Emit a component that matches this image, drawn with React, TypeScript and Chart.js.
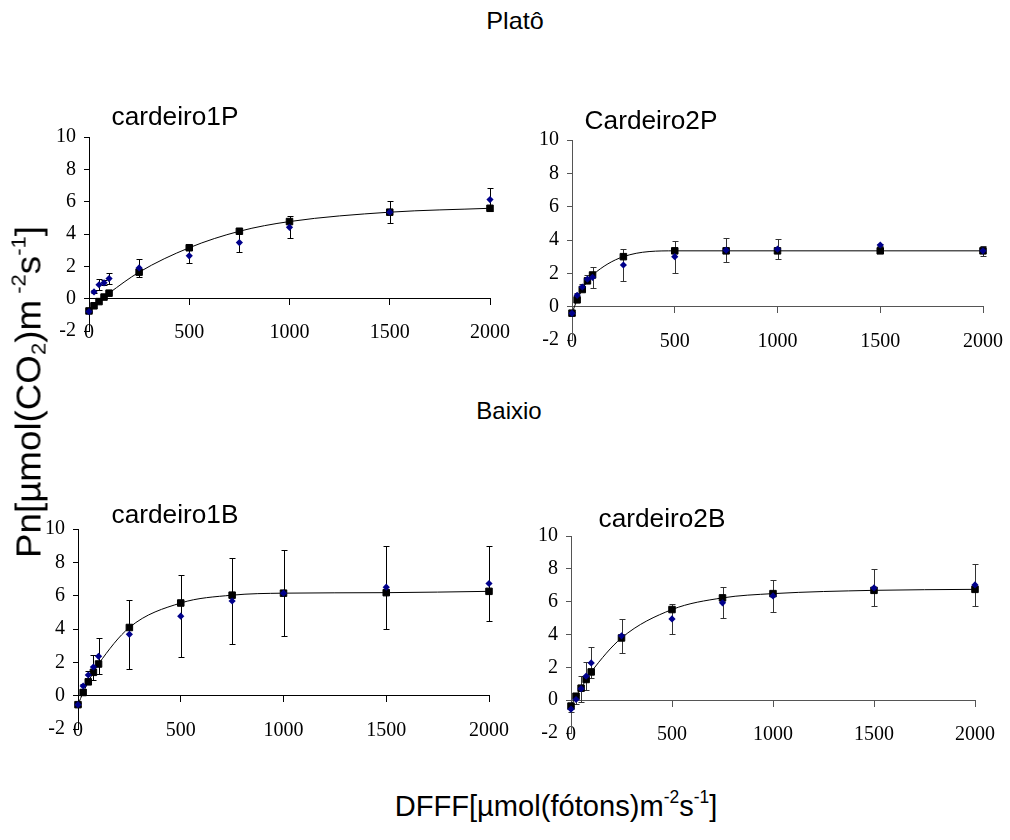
import React, { useEffect, useRef } from "react";
import { Chart, registerables } from "chart.js";

Chart.register(...registerables);

// ---------- data ----------
const PPFD = [0, 25, 50, 75, 100, 250, 500, 750, 1000, 1500, 2000];
const X_TICKS = [0, 500, 1000, 1500, 2000];
const Y_TICKS = [-2, 0, 2, 4, 6, 8, 10];

const obs1P = [-0.8, 0.42, 0.86, 0.98, 1.24, 1.9, 2.65, 3.47, 4.41, 5.35, 6.13];
const err1P = [0.05, 0.1, 0.33, 0.15, 0.35, 0.56, 0.42, 0.6, 0.68, 0.68, 0.7];
const fit1P = [-0.76, -0.44, -0.18, 0.1, 0.34, 1.64, 3.15, 4.17, 4.77, 5.35, 5.59];

const obs2P = [-0.4, 0.68, 1.18, 1.65, 1.76, 2.5, 3.0, 3.39, 3.45, 3.7, 3.35];
const err2P = [0.1, 0.15, 0.2, 0.25, 0.62, 0.94, 0.95, 0.73, 0.6, 0.08, 0.3];
const fit2P = [-0.39, 0.41, 1.03, 1.55, 1.9, 3.0, 3.35, 3.35, 3.35, 3.35, 3.35];

const obs1B = [-0.54, 0.58, 1.24, 1.72, 2.36, 3.68, 4.77, 5.68, 6.15, 6.51, 6.73];
const err1B = [0.1, 0.15, 0.23, 0.75, 1.08, 2.05, 2.47, 2.6, 2.56, 2.5, 2.25];
const fit1B = [-0.54, 0.19, 0.83, 1.4, 1.9, 4.09, 5.56, 6.03, 6.15, 6.18, 6.26];

const obs2B = [-0.55, 0.04, 0.7, 1.46, 2.27, 3.92, 4.95, 5.93, 6.35, 6.84, 7.02];
const err2B = [0.2, 0.25, 0.8, 0.87, 0.94, 1.03, 0.89, 0.95, 1.0, 1.13, 1.3];
const fit2B = [-0.36, 0.24, 0.73, 1.26, 1.72, 3.79, 5.52, 6.23, 6.49, 6.69, 6.75];

// ---------- layout ----------
const YW = 50;
const PT = 14;
const PR = 34;
const XH = 34;

type PanelCfg = {
  title: string;
  obs: number[];
  err: number[];
  fit: number[];
  area: { left: number; top: number; width: number; height: number };
  axisColor: string;
  titlePos: { x: number; y: number };
};

const PANELS: PanelCfg[] = [
  { title: "cardeiro1P", obs: obs1P, err: err1P, fit: fit1P, area: { left: 89, top: 131, width: 401, height: 200 }, axisColor: "#000", titlePos: { x: 175, y: 116 } },
  { title: "Cardeiro2P", obs: obs2P, err: err2P, fit: fit2P, area: { left: 572, top: 134, width: 411, height: 206 }, axisColor: "#555", titlePos: { x: 651, y: 120 } },
  { title: "cardeiro1B", obs: obs1B, err: err1B, fit: fit1B, area: { left: 78, top: 523, width: 411, height: 206 }, axisColor: "#000", titlePos: { x: 175, y: 514 } },
  { title: "cardeiro2B", obs: obs2B, err: err2B, fit: fit2B, area: { left: 571, top: 530, width: 404, height: 203 }, axisColor: "#555", titlePos: { x: 662, y: 518 } },
];

const SANS = "'Liberation Sans', Arial, sans-serif";
const SERIF = "'Liberation Serif', 'Times New Roman', serif";

function errorBarPlugin(xs: number[], ys: number[], errs: number[], color: string) {
  return {
    id: "errorBars",
    beforeDatasetsDraw(chart: any) {
      const { ctx } = chart;
      const x = chart.scales.x;
      const y = chart.scales.y;
      ctx.save();
      ctx.strokeStyle = color;
      ctx.lineWidth = 1;
      xs.forEach((xv, i) => {
        const e = errs[i];
        if (!e) return;
        const px = Math.round(x.getPixelForValue(xv)) + 0.5;
        const top = Math.round(y.getPixelForValue(ys[i] + e)) + 0.5;
        const bot = Math.round(y.getPixelForValue(ys[i] - e)) + 0.5;
        ctx.beginPath();
        ctx.moveTo(px, top);
        ctx.lineTo(px, bot);
        ctx.moveTo(px - 3, top);
        ctx.lineTo(px + 3, top);
        ctx.moveTo(px - 3, bot);
        ctx.lineTo(px + 3, bot);
        ctx.stroke();
      });
      ctx.restore();
    },
  };
}

function Panel({ cfg }: { cfg: PanelCfg }) {
  const ref = useRef<HTMLCanvasElement | null>(null);
  const w = YW + cfg.area.width + PR;
  const h = PT + cfg.area.height + XH;
  const left = cfg.area.left - YW;
  const top = cfg.area.top - PT;

  useEffect(() => {
    if (!ref.current) return;
    const xTicks = (s: any) => {
      s.ticks = X_TICKS.map((v) => ({ value: v }));
    };
    const chart = new Chart(ref.current, {
      type: "scatter",
      data: {
        datasets: [
          {
            label: "observado",
            data: PPFD.map((x, i) => ({ x, y: cfg.obs[i] })),
            pointStyle: "rectRot",
            pointRadius: 3.6,
            backgroundColor: "#00008b",
            borderColor: "#00008b",
            borderWidth: 0,
            showLine: false,
            clip: false,
          } as any,
          {
            label: "ajustado",
            data: PPFD.map((x, i) => ({ x, y: cfg.fit[i] })),
            pointStyle: "rect",
            pointRadius: 4.6,
            backgroundColor: "#000",
            borderColor: "#000",
            borderWidth: 1,
            showLine: true,
            cubicInterpolationMode: "monotone",
            clip: false,
          } as any,
        ],
      },
      options: {
        responsive: false,
        animation: false,
        events: [],
        layout: { padding: { top: PT, right: PR, left: 0, bottom: XH } },
        plugins: { legend: { display: false }, tooltip: { enabled: false }, title: { display: false } },
        scales: {
          x: {
            type: "linear",
            axis: "x",
            position: { y: -2 },
            min: 0,
            max: 2000,
            afterBuildTicks: xTicks,
            ticks: {
              color: "#000",
              font: { family: SERIF, size: 20 },
              padding: -10,
              maxRotation: 0,
              autoSkip: false,
              callback: (v: any) => String(v),
            },
            grid: { display: false, drawTicks: false },
            border: { display: false },
          },
          x0: {
            type: "linear",
            axis: "x",
            position: { y: 0 },
            min: 0,
            max: 2000,
            afterBuildTicks: xTicks,
            ticks: { display: false },
            grid: { drawOnChartArea: false, drawTicks: true, tickLength: 6, color: cfg.axisColor, lineWidth: 1 },
            border: { display: true, color: cfg.axisColor, width: 1 },
          },
          y: {
            type: "linear",
            position: "left",
            min: -2,
            max: 10,
            afterBuildTicks: (s: any) => {
              s.ticks = Y_TICKS.map((v) => ({ value: v }));
            },
            afterFit: (s: any) => {
              s.width = YW;
            },
            ticks: { color: "#000", font: { family: SERIF, size: 20 }, padding: 8 },
            grid: { drawOnChartArea: false, drawTicks: true, tickLength: 5, color: cfg.axisColor },
            border: { display: true, color: cfg.axisColor, width: 1 },
          },
        } as any,
      },
      plugins: [errorBarPlugin(PPFD, cfg.obs, cfg.err, cfg.axisColor === "#000" ? "#000" : "#333")],
    });
    return () => chart.destroy();
  }, [cfg]);

  return (
    <div style={{ position: "absolute", left, top, width: w, height: h }}>
      <canvas ref={ref} width={w} height={h} style={{ width: w, height: h, display: "block" }} />
    </div>
  );
}

function Label({ x, y, size, children, rotate = 0, stretch = 1 }: any) {
  return (
    <div
      style={{
        position: "absolute",
        left: x,
        top: y,
        transform: `translate(-50%, -50%) rotate(${rotate}deg) scaleX(${stretch})`,
        fontFamily: SANS,
        fontSize: size,
        lineHeight: 1,
        whiteSpace: "nowrap",
        color: "#000",
      }}
    >
      {children}
    </div>
  );
}

const supStyle: React.CSSProperties = { fontSize: "0.6em", verticalAlign: "0.7em", lineHeight: 0 };
const subStyle: React.CSSProperties = { fontSize: "0.6em", verticalAlign: "-0.25em", lineHeight: 0 };

export default function App() {
  return (
    <div style={{ position: "absolute", left: 0, top: 0, width: 1010, height: 840, background: "#fff", overflow: "hidden" }}>
      {PANELS.map((p) => (
        <Panel key={p.title} cfg={p} />
      ))}
      {PANELS.map((p) => (
        <Label key={p.title + "t"} x={p.titlePos.x} y={p.titlePos.y} size={25} stretch={1.05}>
          {p.title}
        </Label>
      ))}
      <Label x={515} y={21} size={24} stretch={1.05}>Platô</Label>
      <Label x={509} y={411} size={24}>Baixio</Label>
      <Label x={28} y={392} size={35} rotate={-90} stretch={1.05}>
        Pn[µmol(CO<span style={subStyle}>2</span>)m<span style={supStyle}> -2</span>s<span style={supStyle}>-1</span>]
      </Label>
      <Label x={556} y={806} size={30} stretch={0.97}>
        DFFF[µmol(fótons)m<span style={supStyle}>-2</span>s<span style={supStyle}>-1</span>]
      </Label>
    </div>
  );
}
